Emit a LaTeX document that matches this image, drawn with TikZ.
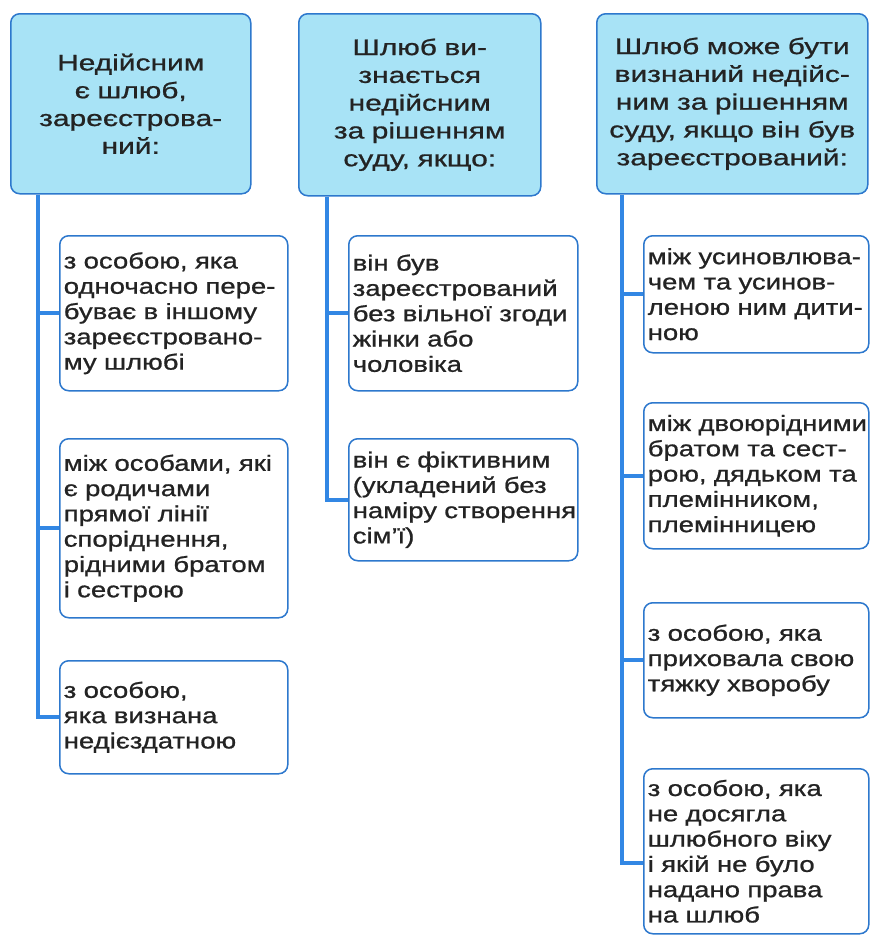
\documentclass[tikz,border=0pt]{standalone}
\usepackage{fontspec}
\exhyphenpenalty=10000
\hyphenpenalty=10000
\newfontfamily\bodyf[FakeStretch=1.25,FakeBold=0.9]{Liberation Sans}
\newfontfamily\headf[FakeStretch=1.33,FakeBold=0.9]{Liberation Sans}
\definecolor{bord}{RGB}{45,120,205}
\definecolor{conncol}{RGB}{50,135,228}
\definecolor{headfill}{RGB}{168,227,246}
\definecolor{txt}{RGB}{35,35,35}
\tikzset{
  hbox/.style={draw=bord, line width=1.5pt, rounded corners=9pt, fill=headfill, align=center,
    inner xsep=4pt, inner ysep=2pt, anchor=north west, text=txt,
    font=\headf\fontsize{22.5}{27.8}\selectfont},
  cbox/.style={draw=bord, line width=1.5pt, rounded corners=9pt, fill=white, align=left,
    inner xsep=4pt, inner ysep=2pt, anchor=north west, text=txt,
    font=\bodyf\fontsize{22}{25.3}\selectfont},
  conn/.style={draw=conncol, line width=3.6pt}
}
\begin{document}
\begin{tikzpicture}[x=1pt,y=-1pt]
\useasboundingbox (0,0) rectangle (870,938);
% headers
\node[hbox, text width=232pt, minimum height=180pt] (h1) at (10,13)
  {Недійсним\\ є шлюб,\\ зареєстрова-\\ ний:};
\node[hbox, text width=234pt, minimum height=182pt] (h2) at (298,13)
  {Шлюб ви-\\ знається\\ недійсним\\ за~рішенням\\ суду, якщо:};
\node[hbox, text width=263pt, minimum height=180pt] (h3) at (596,13)
  {Шлюб~може~бути\\ визнаний~недійс-\\ ним~за~рішенням\\ суду,~якщо~він~був\\ зареєстрований:};
% column 1
\node[cbox, text width=220pt, minimum height=155pt] (c11) at (59,235)
  {з~особою,~яка\\ одночасно~пере-\\ буває~в~іншому\\ зареєстровано-\\ му~шлюбі};
\node[cbox, text width=220pt, minimum height=179pt] (c12) at (59,438)
  {між~особами,~які\\ є~родичами\\ прямої~лінії\\ споріднення,\\ рідними~братом\\ і~сестрою};
\node[cbox, text width=220pt, minimum height=113pt] (c13) at (59,660)
  {з~особою,\\ яка~визнана\\ недієздатною};
% column 2
\node[cbox, text width=221pt, minimum height=155pt] (c21) at (348,235)
  {він~був\\ зареєстрований\\ без~вільної~згоди\\ жінки~або\\ чоловіка};
\node[cbox, text width=221pt, minimum height=122pt] (c22) at (348,438)
  {він~є~фіктивним\\ (укладений~без\\ наміру~створення\\ сім’ї)};
% column 3
\node[cbox, text width=217pt, minimum height=117pt] (c31) at (643,235)
  {між~усиновлюва-\\ чем~та~усинов-\\ леною~ним~дити-\\ ною};
\node[cbox, text width=217pt, minimum height=146pt] (c32) at (643,402)
  {між~двоюрідними\\ братом~та~сест-\\ рою,~дядьком~та\\ племінником,\\ племінницею};
\node[cbox, text width=217pt, minimum height=115pt] (c33) at (643,602)
  {з~особою,~яка\\ приховала~свою\\ тяжку~хворобу};
\node[cbox, text width=217pt, minimum height=165pt] (c34) at (643,768)
  {з~особою,~яка\\ не~досягла\\ шлюбного~віку\\ і~якій~не~було\\ надано~права\\ на~шлюб};
% trunk positions
\coordinate (t1) at (38,0);
\coordinate (t2) at (327,0);
\coordinate (t3) at (622,0);
\coordinate (b34) at ([yshift=-12pt]c34.west);
% connectors
\draw[conn] (h1.south -| t1) |- (c13.west);
\draw[conn] (c11.west -| t1) -- (c11.west);
\draw[conn] (c12.west -| t1) -- (c12.west);
\draw[conn] (h2.south -| t2) |- (c22.west);
\draw[conn] (c21.west -| t2) -- (c21.west);
\draw[conn] (h3.south -| t3) |- (b34);
\draw[conn] (c31.west -| t3) -- (c31.west);
\draw[conn] (c32.west -| t3) -- (c32.west);
\draw[conn] (c33.west -| t3) -- (c33.west);
\end{tikzpicture}
\end{document}
